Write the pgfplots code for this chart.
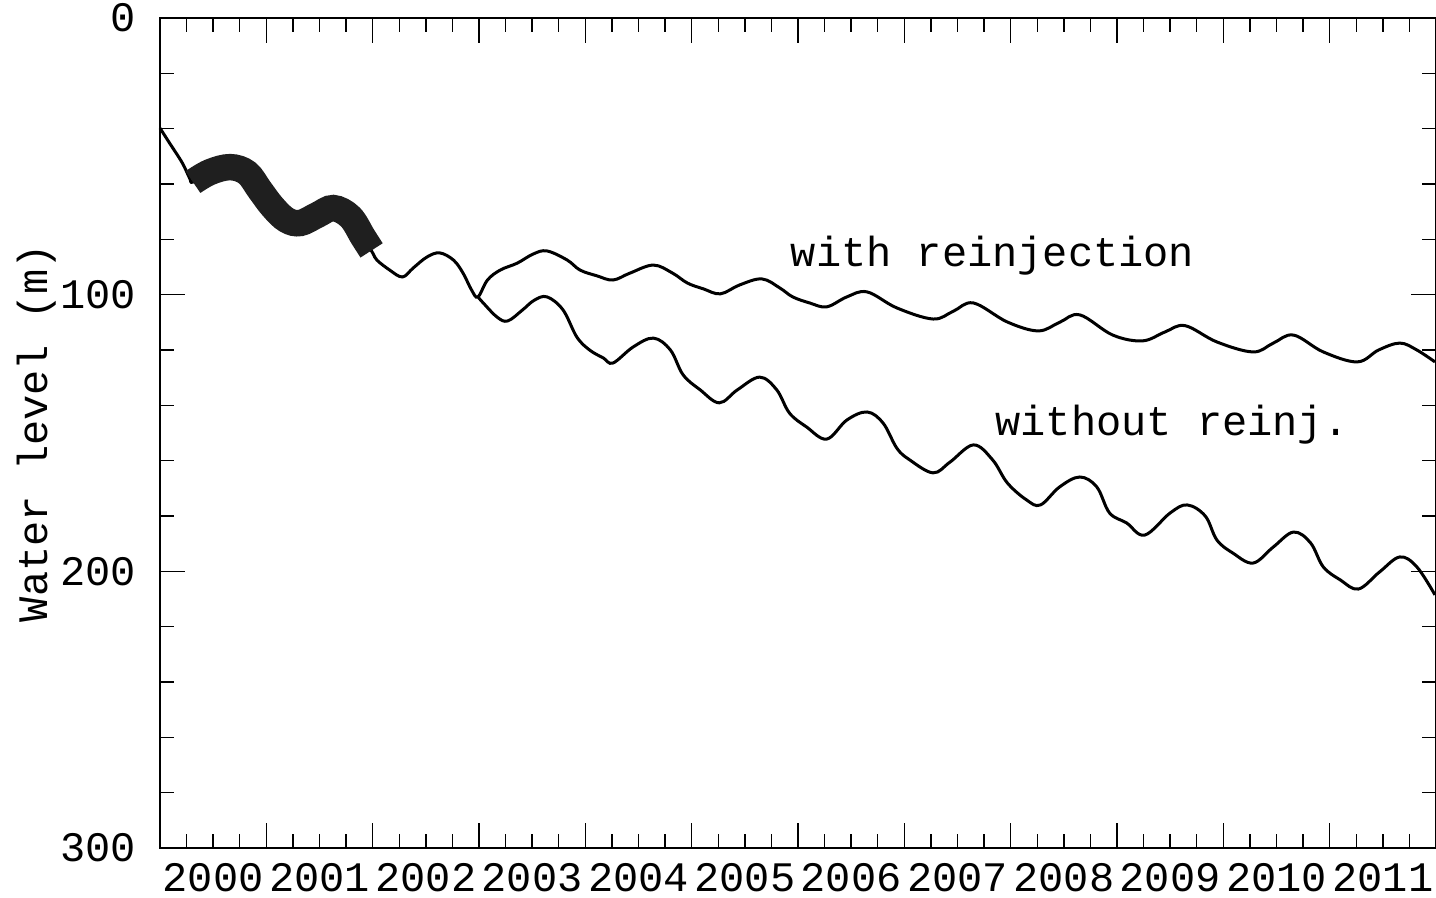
\documentclass[border=0pt]{standalone}
\usepackage{pgfplots}
\pgfplotsset{compat=1.18}
\usepackage{fontspec}
\setmainfont{Liberation Mono}

\pgfplotstableread{
x y
2000.00 39.8
2000.09 45.2
2000.21 52.4
2000.28 58.0
2000.31 59.3
2000.47 55.7
2000.66 53.9
2000.82 56.0
2000.94 62.2
2001.06 68.3
2001.19 73.0
2001.32 74.1
2001.48 71.2
2001.63 68.7
2001.79 71.9
2001.91 79.2
2002.00 84.9
2002.04 87.5
2002.16 91.1
2002.28 93.6
2002.38 90.4
2002.51 86.4
2002.63 84.9
2002.76 87.5
2002.85 92.2
2002.93 98.3
2002.99 100.8
2003.08 94.7
2003.20 91.1
2003.36 88.6
2003.51 85.3
2003.64 84.2
2003.83 87.5
2003.95 91.1
2004.11 93.2
2004.26 94.7
2004.42 92.2
2004.64 89.3
2004.82 92.2
2004.96 95.8
2005.11 97.9
2005.27 99.7
2005.45 96.5
2005.66 94.3
2005.83 97.6
2005.95 100.8
2006.11 103.0
2006.27 104.4
2006.46 100.8
2006.65 99.0
2006.93 104.8
2007.27 108.8
2007.46 106.0
2007.65 103.0
2007.97 109.9
2008.26 113.1
2008.46 110.0
2008.65 107.3
2008.96 114.6
2009.24 116.7
2009.45 113.5
2009.64 111.2
2009.94 117.1
2010.28 120.7
2010.47 117.5
2010.66 114.6
2010.94 120.7
2011.26 124.3
2011.46 120.0
2011.66 117.5
2011.82 120.0
2011.99 124.3
}\withreinj

\pgfplotstableread{
x y
2002.99 100.8
2003.04 103.0
2003.17 108.1
2003.27 109.5
2003.41 105.5
2003.52 102.0
2003.64 100.8
2003.79 105.5
2003.92 115.3
2004.04 120.0
2004.17 122.9
2004.26 124.7
2004.45 118.9
2004.64 115.7
2004.80 120.0
2004.92 129.0
2005.08 134.4
2005.26 139.1
2005.43 134.4
2005.64 129.8
2005.80 134.4
2005.92 142.8
2006.08 147.8
2006.27 152.2
2006.46 145.3
2006.65 142.4
2006.80 146.4
2006.93 155.5
2007.05 159.7
2007.27 164.4
2007.43 160.5
2007.65 154.3
2007.83 159.7
2007.97 168.1
2008.15 174.2
2008.28 176.0
2008.46 169.5
2008.65 165.9
2008.81 169.5
2008.93 178.9
2009.09 182.5
2009.26 186.9
2009.50 178.9
2009.66 176.0
2009.83 180.0
2009.94 188.7
2010.09 193.4
2010.28 197.0
2010.47 191.2
2010.66 185.8
2010.82 189.7
2010.94 198.4
2011.10 203.1
2011.27 206.4
2011.47 200.2
2011.66 194.8
2011.82 198.4
2011.99 208.5
}\withoutreinj

\pgfplotstableread{
x y
2000.31 59.3
2000.47 55.7
2000.66 53.9
2000.82 56.0
2000.94 62.2
2001.06 68.3
2001.19 73.0
2001.32 74.1
2001.48 71.2
2001.63 68.7
2001.79 71.9
2001.91 79.2
2001.99 84.0
}\observed

\begin{document}
\fontsize{10.5bp}{12.6bp}\selectfont
\begin{tikzpicture}
\begin{axis}[
  name=ax,
  scale only axis,
  width=319bp, height=207.5bp,
  xmin=2000, xmax=2012,
  ymin=0, ymax=300,
  y dir=reverse,
  axis line style={line width=0.4bp},
  every tick/.style={black, line width=0.35bp},
  tick align=inside,
  major tick length=6.25bp,
  minor tick length=3.5bp,
  xtick={2000,2001,2002,2003,2004,2005,2006,2007,2008,2009,2010,2011,2012},
  xticklabels={2000,2001,2002,2003,2004,2005,2006,2007,2008,2009,2010,2011,{}},
  minor x tick num=3,
  ytick={0,100,200,300},
  yticklabels={0,100,200,300},
  minor y tick num=4,
  xticklabel style={anchor=center, xshift=13.29bp, yshift=-7.4bp},
  yticklabel style={anchor=east, xshift=-2.3bp},
  ylabel={Water level (m)},
  every axis y label/.style={at={(axis description cs:-0.0964,0.5)}, rotate=90, anchor=center},
  clip=false,
]
\addplot[black, line width=0.75bp, smooth, tension=0.6] table[x=x,y=y] {\withreinj};
\addplot[black, line width=0.75bp, smooth, tension=0.6] table[x=x,y=y] {\withoutreinj};
\addplot[black!88, line width=6.6bp, smooth, tension=0.6] table[x=x,y=y] {\observed};
\node[anchor=west, inner sep=0pt] at (axis cs:2005.925,86) {with reinjection};
\node[anchor=west, inner sep=0pt] at (axis cs:2007.85,147.1) {without reinj.};
\end{axis}
\pgfresetboundingbox
\path[use as bounding box] ([xshift=-40bp,yshift=-12.5bp]ax.south west) rectangle ([yshift=4.5bp]ax.north east);
\end{tikzpicture}
\end{document}
